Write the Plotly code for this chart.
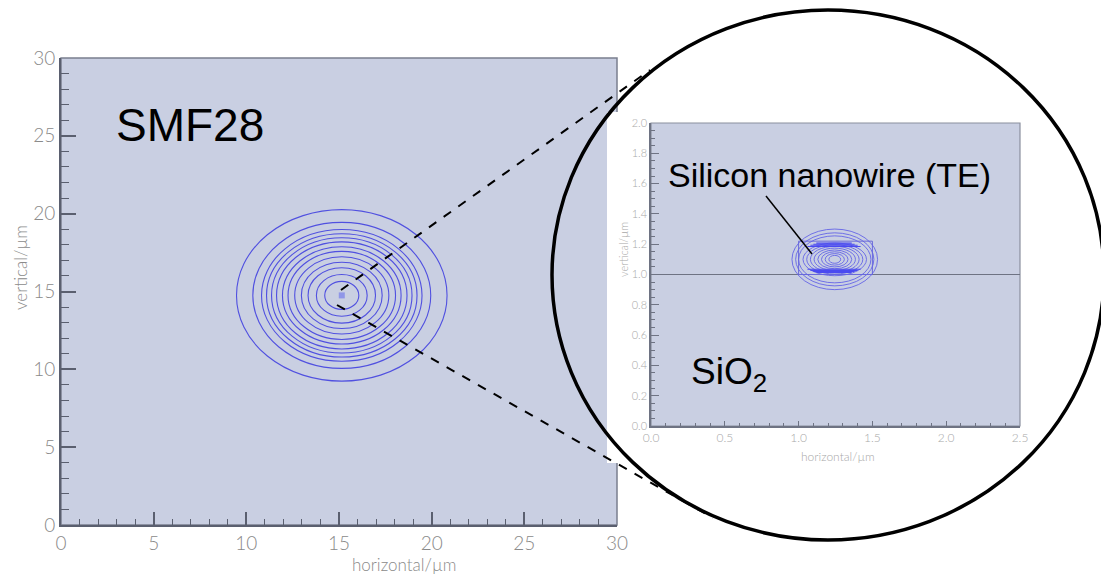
import plotly.graph_objects as go

W, H = 1101, 576

# ---------------- data ----------------
# SMF28 mode (left panel): contour rings (µm)
smf_ticks = [0, 5, 10, 15, 20, 25, 30]
smf_cx, smf_cy = 15.15, 14.75
smf_rx = [5.68, 4.80, 4.33, 4.06, 3.79, 3.52, 3.20, 2.90, 2.54, 2.18, 1.82, 1.37, 0.92]
smf_ry = [5.51, 4.69, 4.23, 3.96, 3.70, 3.44, 3.12, 2.83, 2.48, 2.13, 1.78, 1.34, 0.90]

# Silicon nanowire mode (inset): contours (µm)
si_xticks = [0.0, 0.5, 1.0, 1.5, 2.0, 2.5]
si_yticks = [0.0, 0.2, 0.4, 0.6, 0.8, 1.0, 1.2, 1.4, 1.6, 1.8, 2.0]
si_cx, si_cy = 1.245, 1.10
si_rx = [0.29, 0.265, 0.245, 0.215, 0.19, 0.165, 0.14, 0.115, 0.09, 0.065, 0.04]
si_ry = [0.20, 0.175, 0.155, 0.108, 0.097, 0.086, 0.074, 0.062, 0.05, 0.038, 0.026]
wg_x = [1.0, 1.5]
wg_y = [1.0, 1.22]
band_x0 = [1.06, 1.08, 1.10, 1.12]
band_x1 = [1.42, 1.40, 1.38, 1.36]
band_top = [1.185, 1.193, 1.200, 1.207]
band_bot = [1.035, 1.027, 1.020, 1.013]
substrate_y = 1.0

# ---------------- style ----------------
BG = "#c9cfe2"
AX = "#5a5f6f"
BLUE = "#5050e0"
FONT = "Lato"

def px(x):
    return x / W

def py(y):
    return 1 - y / H

shapes = []
# left plot background + border
shapes.append(dict(type="rect", xref="paper", yref="paper", layer="below",
                   x0=px(61), x1=px(617), y0=py(525), y1=py(58),
                   fillcolor=BG, line=dict(color="#7a7f8e", width=1.5)))
# white inset picture background
shapes.append(dict(type="rect", xref="paper", yref="paper", layer="below",
                   x0=px(607), x1=px(1045), y0=py(463), y1=py(112),
                   fillcolor="white", line=dict(width=0)))
# inset background + border
shapes.append(dict(type="rect", xref="paper", yref="paper", layer="below",
                   x0=px(651), x1=px(1020), y0=py(426), y1=py(123),
                   fillcolor=BG, line=dict(color="#8a8f9e", width=1.2)))

# SMF28 contours
for rx, ry in zip(smf_rx, smf_ry):
    shapes.append(dict(type="circle", xref="x", yref="y", layer="above",
                       x0=smf_cx - rx, x1=smf_cx + rx, y0=smf_cy - ry, y1=smf_cy + ry,
                       line=dict(color=BLUE, width=1.1)))

# inset substrate line
shapes.append(dict(type="line", xref="x2", yref="y2", layer="above",
                   x0=0, x1=2.5, y0=substrate_y, y1=substrate_y,
                   line=dict(color="#6e7383", width=1)))
# waveguide outline
shapes.append(dict(type="rect", xref="x2", yref="y2", layer="above",
                   x0=wg_x[0], x1=wg_x[1], y0=wg_y[0], y1=wg_y[1],
                   line=dict(color="#6a6ad8", width=1)))
for rx, ry in zip(si_rx, si_ry):
    shapes.append(dict(type="circle", xref="x2", yref="y2", layer="above",
                       x0=si_cx - rx, x1=si_cx + rx, y0=si_cy - ry, y1=si_cy + ry,
                       line=dict(color="#6464e6", width=0.9)))
for x0, x1, yt, yb in zip(band_x0, band_x1, band_top, band_bot):
    shapes.append(dict(type="line", xref="x2", yref="y2", layer="above",
                       x0=x0, x1=x1, y0=yt, y1=yt, line=dict(color="#4a4af0", width=1.1)))
    shapes.append(dict(type="line", xref="x2", yref="y2", layer="above",
                       x0=x0, x1=x1, y0=yb, y1=yb, line=dict(color="#4a4af0", width=1.1)))

# dashed zoom lines
shapes.append(dict(type="line", xref="paper", yref="paper", layer="above",
                   x0=px(341), y0=py(290), x1=px(650), y1=py(70),
                   line=dict(color="black", width=2, dash="dash")))
shapes.append(dict(type="line", xref="paper", yref="paper", layer="above",
                   x0=px(337), y0=py(305), x1=px(713), y1=py(518),
                   line=dict(color="black", width=2, dash="dash")))
# magnifier circle
shapes.append(dict(type="circle", xref="paper", yref="paper", layer="above",
                   x0=px(552), x1=px(1104), y0=py(540), y1=py(10),
                   line=dict(color="black", width=3.5)))
# pointer line
shapes.append(dict(type="line", xref="paper", yref="paper", layer="above",
                   x0=px(766), y0=py(196), x1=px(812), y1=py(254),
                   line=dict(color="black", width=1.5)))

fig = go.Figure()
fig.add_trace(go.Scatter(x=[smf_cx], y=[smf_cy], mode="markers",
                         marker=dict(symbol="square", size=6, color="#8f96e8"),
                         xaxis="x", yaxis="y", showlegend=False, hoverinfo="skip"))
fig.add_trace(go.Scatter(x=[si_cx], y=[si_cy], mode="markers",
                         marker=dict(size=1, color=BG, opacity=0),
                         xaxis="x2", yaxis="y2", showlegend=False, hoverinfo="skip"))

annotations = [
    dict(text="SMF28", x=px(190), y=py(125), font=dict(family="Liberation Sans, Arial", size=46, color="black")),
    dict(text="Silicon nanowire (TE)", x=px(829), y=py(175), font=dict(family="Liberation Sans, Arial", size=34, color="black")),
    dict(text="SiO<sub>2</sub>", x=px(729), y=py(374), font=dict(family="Liberation Sans, Arial", size=37, color="black")),
    dict(text="horizontal/µm", x=px(404), y=py(564), font=dict(family=FONT, size=17, color="#8a8a8a", weight=300)),
    dict(text="vertical/µm", x=px(20), y=py(268), textangle=-90, font=dict(family=FONT, size=17, color="#8a8a8a", weight=300)),
    dict(text="horizontal/µm", x=px(838), y=py(456), font=dict(family=FONT, size=12, color="#a8a8a8", weight=300)),
    dict(text="vertical/µm", x=px(623), y=py(250), textangle=-90, font=dict(family=FONT, size=11, color="#a8a8a8", weight=300)),
]
for a in annotations:
    a.update(xref="paper", yref="paper", showarrow=False, xanchor="center", yanchor="middle")

common = dict(showgrid=False, zeroline=False, showline=True, ticks="inside",
              fixedrange=True, automargin=False)

fig.update_layout(
    width=W, height=H, margin=dict(l=0, r=0, t=0, b=0, pad=0, autoexpand=False),
    paper_bgcolor="white", plot_bgcolor="rgba(0,0,0,0)",
    showlegend=False,
    shapes=shapes, annotations=annotations,
    xaxis=dict(domain=[px(61), px(617)], range=[0, 30], anchor="y",
               tickvals=smf_ticks, ticklen=13, tickwidth=1.5, tickcolor=AX,
               linecolor=AX, linewidth=2,
               minor=dict(dtick=1, ticklen=6, ticks="inside", tickcolor=AX, tickwidth=1.2),
               tickfont=dict(family=FONT, size=19, color="#8a8a8a", weight=300), **common),
    yaxis=dict(domain=[py(525), py(58)], range=[0, 30], anchor="x",
               tickvals=smf_ticks, ticklen=15, tickwidth=1.5, tickcolor=AX,
               linecolor=AX, linewidth=2,
               minor=dict(dtick=1, ticklen=8, ticks="inside", tickcolor=AX, tickwidth=1.2),
               tickfont=dict(family=FONT, size=19, color="#8a8a8a", weight=300), **common),
    xaxis2=dict(domain=[px(651), px(1020)], range=[0, 2.5], anchor="y2",
                tickvals=si_xticks, ticktext=[f"{v:.1f}" for v in si_xticks],
                ticklen=5, tickwidth=1, tickcolor="#6e7383",
                linecolor="#6e7383", linewidth=1.5,
                minor=dict(dtick=0.1, ticklen=3, ticks="inside", tickcolor="#6e7383", tickwidth=1),
                tickfont=dict(family=FONT, size=12, color="#a8a8a8", weight=300), **common),
    yaxis2=dict(domain=[py(426), py(123)], range=[0, 2], anchor="x2",
                tickvals=si_yticks, ticktext=[f"{v:.1f}" for v in si_yticks],
                ticklen=8, tickwidth=1, tickcolor="#6e7383",
                linecolor="#6e7383", linewidth=1.5,
                minor=dict(dtick=0.05, ticklen=4, ticks="inside", tickcolor="#6e7383", tickwidth=1),
                tickfont=dict(family=FONT, size=11, color="#a8a8a8", weight=300), **common),
)

fig.write_html("out.html", config={"displayModeBar": False},
               post_script="document.body.style.margin='0';document.body.style.overflow='hidden';")
